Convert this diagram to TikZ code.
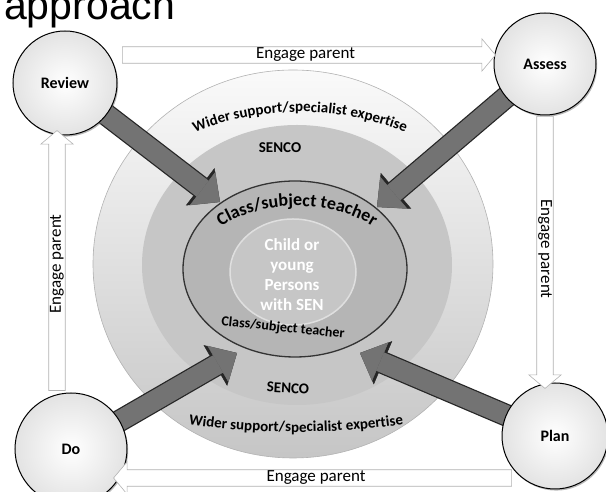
\documentclass[tikz,border=0pt]{standalone}
\usepackage{fontspec}
\setmainfont{Carlito}
\newfontfamily\titlefont{Liberation Sans}
\usetikzlibrary{arrows.meta,shapes.arrows,decorations.text,calc,shadows}
\pgfdeclarelayer{ringlayer}
\pgfdeclarelayer{arrowlayer}
\pgfsetlayers{ringlayer,arrowlayer,main}
\newcommand{\fs}[1]{\fontsize{#1}{#1}\selectfont}

\begin{document}
\begin{tikzpicture}[
	x=1pt, y=1pt,% 1pt entspricht 1px der Vorlage
	process/.style={circle, draw=black, line width=1pt,
		inner color=white, outer color=gray!22,
		drop shadow={shadow xshift=1.2pt, shadow yshift=-1.6pt, fill=black!55},
		font=\bfseries\fs{16}},
	engage/.style={single arrow, draw=gray!60, fill=white, line width=0.6pt,
		minimum width=20pt, inner sep=1pt,
		single arrow head extend=8pt, single arrow tip angle=100,
		sloped, font=\fs{17}},
	feed/.style={draw=black!55, line width=20pt,
		-{Triangle[length=22pt,width=42pt,line width=0.5pt]},
		preaction={draw=black!85, line width=22.5pt,
			-{Triangle[length=25pt,width=47pt,line width=0.5pt]}}},
	ringlabel/.style={font=\bfseries\fs{15}}
]
\useasboundingbox (0,0) rectangle (606,492);
%
% Ringe
\begin{pgfonlayer}{ringlayer}
\shadedraw[top color=gray!4, middle color=gray!10, bottom color=gray!45,
	draw=gray!60, line width=0.6pt]
	(293,228) ellipse [x radius=200, y radius=194];
\fill[gray!45] (297,227) ellipse [x radius=155, y radius=140];
\filldraw[fill=gray!58, draw=black!80, line width=1.3pt]
	(295,223) ellipse [x radius=112, y radius=88];
\filldraw[fill=gray!45, draw=gray!25, line width=1.5pt]
	(293,220) ellipse [x radius=63, y radius=53];
\end{pgfonlayer}
%
\node(title)%
	[anchor=base west, inner sep=0pt, font=\titlefont\fs{41}]%
	at (4,472)%
	{approach};%
%
\node(p_review)%
	[process, minimum size=104pt]%
	at (65,409)%
	{Review};%
\node(p_assess)%
	[process, minimum size=102pt]%
	at (545,428)%
	{Assess};%
\node(p_plan)%
	[process, minimum size=106pt]%
	at (555,56)%
	{Plan};%
\node(p_do)%
	[process, minimum size=112pt]%
	at (71,43)%
	{Do};%
%
\coordinate(t_review) at (220,290);%
\coordinate(t_assess) at (377,285);%
\coordinate(t_plan) at (360,139);%
\coordinate(t_do) at (237,139);%
\begin{pgfonlayer}{arrowlayer}
\draw[feed] (p_review.center) -- (t_review);
\draw[feed] (p_assess.center) -- (t_assess);
\draw[feed] (p_plan.center) -- (t_plan);
\draw[feed] (p_do.center) -- (t_do);
\end{pgfonlayer}
%
% Engage parent
\path ($(p_review.east)+(0,28)$) -- node[engage, minimum height=373pt]{Engage parent} ($(p_assess.west)+(0,9)$);
\path (p_assess.south) -- node[engage, minimum height=272pt]{Engage parent} (p_assess.south |- p_plan.north);
\path ($(p_do.east)+(-10,-29)$) -- node[engage, minimum height=398pt, shape border rotate=180]{Engage parent} ($(p_plan.west)+(13,-42)$);
\path ($(p_do.north -| p_review.south)+(-8,0)$) -- node[engage, minimum height=260pt]{Engage parent} ($(p_review.south)+(-8,0)$);
%
% Beschriftung der Ringe
\path[decorate, decoration={text along path, text align=center,
	text={|\bfseries\fs{15}|Wider support/specialist expertise}}]
	(300,228) ++(160:210 and 152) arc[start angle=160, end angle=20, x radius=210, y radius=152];
\node(l_senco_top)[ringlabel] at (280,344) {SENCO};
\path[decorate, decoration={text along path, text align=center,
	text={|\bfseries\fs{18}|Class/subject teacher}}]
	(297,216) ++(170:108 and 70) arc[start angle=170, end angle=10, x radius=108, y radius=70];
\node(l_child)%
	[align=center, text=white, font=\bfseries\fontsize{17}{20}\selectfont]%
	at (292,217)%
	{Child or\\young\\Persons\\with SEN};%
\node(l_teacher_bottom)[font=\bfseries\fs{14}, rotate=-6] at (283,164) {Class/subject teacher};
\node(l_senco_bottom)[ringlabel, rotate=-3] at (288,104) {SENCO};
\path[decorate, decoration={text along path, text align=center,
	text={|\bfseries\fs{15}|Wider support/specialist expertise}}]
	(296,110) ++(200:200 and 50) arc[start angle=200, end angle=340, x radius=200, y radius=50];
%
\end{tikzpicture}
\end{document}
